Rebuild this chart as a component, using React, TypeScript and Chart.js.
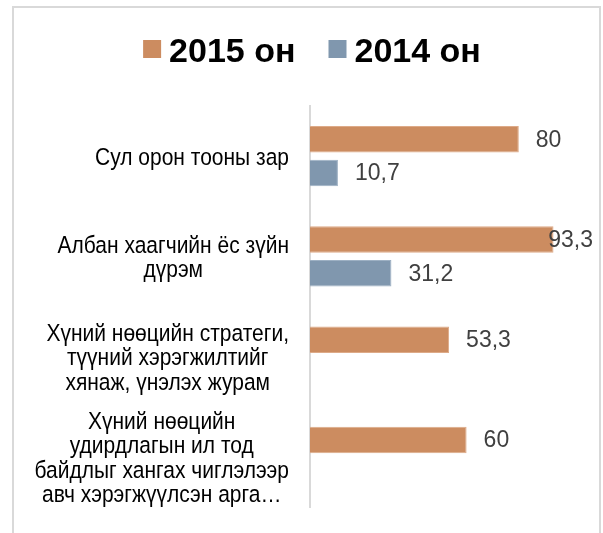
import React, { useEffect, useRef } from "react";
import { Chart, registerables } from "chart.js";

Chart.register(...registerables);

const categories: string[][] = [
  ["Сул орон тооны зар"],
  ["Албан хаагчийн ёс зүйн", "дүрэм"],
  ["Хүний нөөцийн стратеги,", "түүний хэрэгжилтийг", "хянаж, үнэлэх журам"],
  ["Хүний нөөцийн", "удирдлагын ил тод", "байдлыг хангах чиглэлээр", "авч хэрэгжүүлсэн арга…"],
];
const seriesNames = ["2015 он", "2014 он"];
const values2015: (number | null)[] = [80, 93.3, 53.3, 60];
const values2014: (number | null)[] = [10.7, 31.2, null, null];
const xMin = 0;
const xMax = 100;

const FONT = '"Liberation Sans", Arial, Helvetica, sans-serif';
const COLORS = ["#CC8C60", "#8097AE"];
const BORDERS = ["#DDAA88", "#9DB0C3"];

const fmt = (v: number) => String(v).replace(".", ",");

const customPlugin = {
  id: "customDraw",
  beforeDraw(chart: any) {
    const ctx = chart.ctx;
    ctx.save();
    ctx.fillStyle = "#ffffff";
    ctx.fillRect(0, 0, chart.width, chart.height);
    ctx.strokeStyle = "#d9d9d9";
    ctx.lineWidth = 2;
    ctx.strokeRect(13, 7, 587, 600);
    ctx.restore();
  },
  afterDatasetsDraw(chart: any) {
    const ctx = chart.ctx;
    ctx.save();
    ctx.font = `23px ${FONT}`;
    ctx.fillStyle = "#404040";
    ctx.textBaseline = "middle";
    ctx.textAlign = "left";
    chart.data.datasets.forEach((ds: any, di: number) => {
      const meta = chart.getDatasetMeta(di);
      meta.data.forEach((bar: any, i: number) => {
        const v = ds.data[i];
        if (v === null || v === undefined) return;
        const t = fmt(v);
        const w = ctx.measureText(t).width;
        let x = bar.x + 17;
        if (x + w > 593) x = 593 - w;
        ctx.fillText(t, x, bar.y + 1);
      });
    });
    ctx.restore();
  },
  afterDraw(chart: any) {
    const ctx = chart.ctx;
    ctx.save();
    // legend
    ctx.font = `bold 34px ${FONT}`;
    ctx.textBaseline = "alphabetic";
    ctx.textAlign = "left";
    const box = 18;
    const gapText = 8;
    const gapItem = 33;
    const widths = seriesNames.map((n) => box + gapText + ctx.measureText(n).width);
    const total = widths.reduce((a, b) => a + b, 0) + gapItem * (widths.length - 1);
    let x = 312 - total / 2;
    seriesNames.forEach((n, i) => {
      ctx.fillStyle = COLORS[i];
      ctx.fillRect(x, 40, box, box);
      ctx.fillStyle = "#000000";
      ctx.fillText(n, x + box + gapText, 62);
      x += widths[i] + gapItem;
    });
    ctx.restore();

    // category labels (slightly taller glyphs as in the reference)
    const yScale = chart.scales.y;
    const sy = 1.1;
    ctx.save();
    ctx.font = `21px ${FONT}`;
    ctx.textBaseline = "middle";
    ctx.textAlign = "center";
    ctx.fillStyle = "#000000";
    const right = chart.chartArea.left - 21;
    const lh = 24.5;
    categories.forEach((lines, i) => {
      const cy = yScale.getPixelForValue(i) + 2;
      const bw = Math.max(...lines.map((l) => ctx.measureText(l).width));
      const cx = right - bw / 2;
      lines.forEach((l, li) => {
        const ly = cy + (li - (lines.length - 1) / 2) * lh;
        ctx.save();
        ctx.translate(cx, ly);
        ctx.scale(1, sy);
        ctx.fillText(l, 0, 0);
        ctx.restore();
      });
    });
    ctx.restore();
  },
};

export default function App() {
  const ref = useRef<HTMLCanvasElement | null>(null);
  useEffect(() => {
    if (!ref.current) return;
    const chart = new Chart(ref.current, {
      type: "bar",
      data: {
        labels: categories.map((c) => c.join(" ")),
        datasets: [
          {
            label: seriesNames[0],
            data: values2015,
            backgroundColor: COLORS[0],
            borderColor: BORDERS[0],
            borderWidth: 1,
            categoryPercentage: 0.67,
            barPercentage: 0.79,
          },
          {
            label: seriesNames[1],
            data: values2014,
            backgroundColor: COLORS[1],
            borderColor: BORDERS[1],
            borderWidth: 1,
            categoryPercentage: 0.67,
            barPercentage: 0.79,
          },
        ],
      },
      options: {
        indexAxis: "y",
        responsive: false,
        animation: false,
        devicePixelRatio: 1,
        layout: { padding: { top: 106, right: 32, bottom: 26, left: 0 } },
        plugins: {
          legend: { display: false },
          tooltip: { enabled: false },
        },
        scales: {
          x: { display: false, min: xMin, max: xMax },
          y: {
            ticks: { display: false },
            grid: { display: false, drawTicks: false },
            border: { display: true, color: "#d9d9d9", width: 2 },
            afterFit: (scale: any) => {
              scale.width = 310;
            },
          },
        },
      } as any,
      plugins: [customPlugin],
    });
    return () => chart.destroy();
  }, []);
  return (
    <div style={{ position: "absolute", left: 0, top: 0, width: 603, height: 533 }}>
      <canvas ref={ref} width={603} height={533} />
    </div>
  );
}
